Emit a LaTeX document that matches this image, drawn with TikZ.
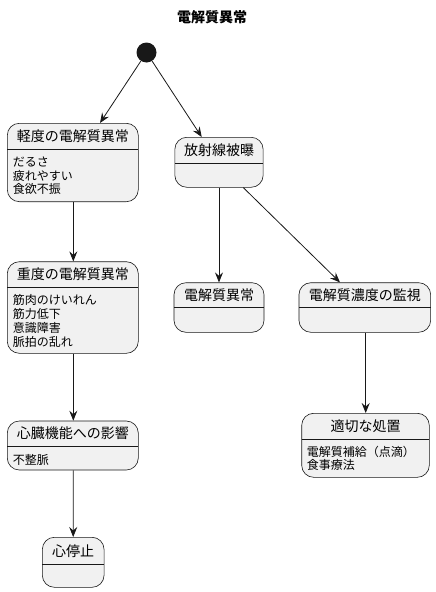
\documentclass[tikz,border=0pt]{standalone}
\usepackage{fontspec}
\setmainfont{Noto Sans CJK JP}
\usetikzlibrary{arrows.meta}
\definecolor{boxfill}{HTML}{F1F1F1}
\definecolor{edgec}{HTML}{181818}
\begin{document}
\begin{tikzpicture}[x=1pt,y=-1pt,
  box/.style={draw=edgec, fill=boxfill, rounded corners=12pt, line width=0.6pt, inner sep=0pt},
  ttl/.style={font=\fontsize{14}{16}\selectfont, inner sep=0pt, text=black},
  item/.style={font=\fontsize{12}{14}\selectfont, inner sep=0pt, anchor=west, text=black},
  sepline/.style={draw=edgec, line width=0.6pt},
  conn/.style={draw=edgec, line width=0.8pt, -{Stealth[length=10pt,width=8pt,inset=3.5pt]}}]
\useasboundingbox (0,0) rectangle (436,592);
% title
\node[font=\fontsize{14}{16}\selectfont\bfseries, inner sep=0pt] (title) at (212,17) {電解質異常};
% start
\node[circle, fill=edgec, minimum size=20pt, inner sep=0pt] (start) at (146.5,52.5) {};
% light
\node[box, minimum width=131pt, minimum height=78.4pt] (light) at (72.8,162.5) {};
\draw[sepline] (7.3,149.3) -- (138.3,149.3);
\node[ttl] (lightT) at (72.8,136) {軽度の電解質異常};
\node[item] (l1) at (12.7,162) {だるさ};
\node[item] (l2) at (12.7,175.5) {疲れやすい};
\node[item] (l3) at (12.7,189) {食欲不振};
% severe
\node[box, minimum width=131pt, minimum height=91.6pt] (severe) at (72.8,307.5) {};
\draw[sepline] (7.3,287.7) -- (138.3,287.7);
\node[ttl] (severeT) at (72.8,274.5) {重度の電解質異常};
\node[item] (s1) at (12.7,300) {筋肉のけいれん};
\node[item] (s2) at (12.7,314) {筋力低下};
\node[item] (s3) at (12.7,328) {意識障害};
\node[item] (s4) at (12.7,342) {脈拍の乱れ};
% cardiac
\node[box, minimum width=131pt, minimum height=49pt] (cardiac) at (72.8,445.5) {};
\draw[sepline] (7.3,446.7) -- (138.3,446.7);
\node[ttl] (cardiacT) at (72.8,433.5) {心臓機能への影響};
\node[item] (c1) at (12.7,459.5) {不整脈};
% arrest
\node[box, minimum width=61.7pt, minimum height=50pt] (arrest) at (73.2,562.3) {};
\draw[sepline] (42.3,564) -- (104,564);
\node[ttl] (arrestT) at (73.2,551.5) {心停止};
% radiation
\node[box, minimum width=88.3pt, minimum height=50pt] (rad) at (219,162.3) {};
\draw[sepline] (175,163.3) -- (263.3,163.3);
\node[ttl] (radT) at (219,150) {放射線被曝};
% elec
\node[box, minimum width=90pt, minimum height=49.6pt] (elec) at (219,307.5) {};
\draw[sepline] (174,307.7) -- (264,307.7);
\node[ttl] (elecT) at (219,295) {電解質異常};
% monitor
\node[box, minimum width=131.7pt, minimum height=49.6pt] (mon) at (364.8,307.5) {};
\draw[sepline] (299,307.7) -- (430.7,307.7);
\node[ttl] (monT) at (364.8,295) {電解質濃度の監視};
% action
\node[box, minimum width=127.6pt, minimum height=64pt] (act) at (365.5,445.3) {};
\draw[sepline] (301.7,439.3) -- (429.3,439.3);
\node[ttl] (actT) at (365.5,426.5) {適切な処置};
\node[item] (a1) at (306.7,451.7) {電解質補給（点滴）};
\node[item] (a2) at (306.7,465) {食事療法};
% connectors
\draw[conn] (start) -- ([xshift=27.2pt]light.north);
\draw[conn] (start) -- ([xshift=-17.3pt]rad.north);
\draw[conn] ([xshift=0.5pt]light.south) -- ([xshift=0.5pt]severe.north);
\draw[conn] ([xshift=0.5pt]severe.south) -- ([xshift=0.5pt]cardiac.north);
\draw[conn] ([xshift=0.5pt]cardiac.south) -- (arrest.north);
\draw[conn] (rad.south) -- (elec.north);
\draw[conn] ([xshift=24.3pt]rad.south) -- ([xshift=-24.8pt]mon.north);
\draw[conn] ([xshift=0.9pt]mon.south) -- ([xshift=0.2pt]act.north);
\end{tikzpicture}
\end{document}
